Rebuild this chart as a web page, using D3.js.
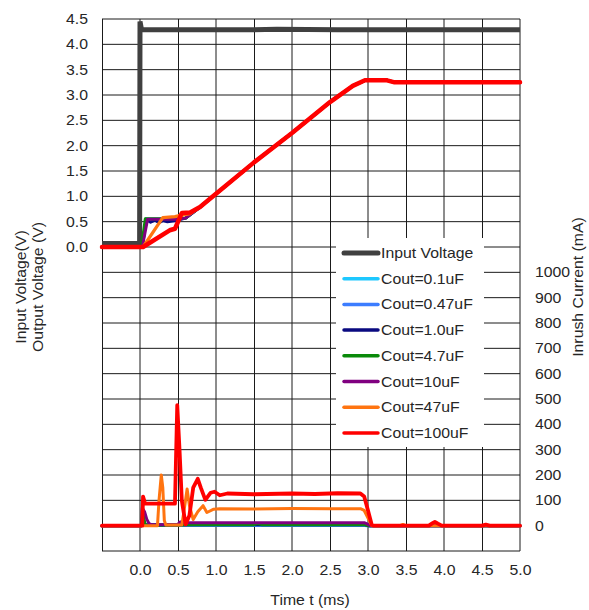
<!DOCTYPE html>
<html>
<head>
<meta charset="utf-8">
<script src="https://cdn.jsdelivr.net/npm/d3@7"></script>
<style>
  html, body { margin: 0; padding: 0; background: #fff; }
  svg { display: block; font-family: "Liberation Sans", Arial, sans-serif; }
</style>
</head>
<body>
<svg id="chart" width="589" height="610"></svg>
<script>
// ---------------- DATA ----------------
const xTicks = [0, 0.5, 1, 1.5, 2, 2.5, 3, 3.5, 4, 4.5, 5];
const yLeftTicks = [0, 0.5, 1, 1.5, 2, 2.5, 3, 3.5, 4, 4.5];
const yRightTicks = [0, 100, 200, 300, 400, 500, 600, 700, 800, 900, 1000];

const seriesNames = ["Input Voltage", "Cout=0.1uF", "Cout=0.47uF", "Cout=1.0uF",
                     "Cout=4.7uF", "Cout=10uF", "Cout=47uF", "Cout=100uF"];
const seriesColors = ["#404040", "#1ec8ff", "#3c7dff", "#0a0a80",
                      "#0a8a0a", "#800080", "#ff7410", "#ff0000"];

// Input voltage (V)
const inputT = [-0.5, -0.005, 0.0, 0.02, 1.5, 1.8, 2.6, 3.0, 5.0];
const inputV = [0.07, 0.07, 4.45, 4.29, 4.29, 4.3, 4.29, 4.29, 4.29];

// Common soft-start ramp of the output voltage (V)
const rampT = [0.79, 1.0, 1.5, 2.0, 2.5, 2.8, 2.96, 3.25, 3.35, 5.0];
const rampV = [0.79, 1.05, 1.67, 2.25, 2.86, 3.18, 3.29, 3.29, 3.25, 3.25];

// Output voltage start segments (V) before joining the ramp
const vout01T = [-0.5, 0.03, 0.08, 0.5, 0.6];
const vout01V = [0, 0, 0.55, 0.55, 0.57];
const vout047T = [-0.5, 0.03, 0.08, 0.5, 0.6];
const vout047V = [0, 0, 0.55, 0.55, 0.57];
const vout1T = [-0.5, 0.03, 0.08, 0.14, 0.2, 0.25, 0.3, 0.36, 0.5, 0.6];
const vout1V = [0, 0, 0.55, 0.49, 0.53, 0.48, 0.52, 0.5, 0.53, 0.57];
const vout47T = [-0.5, 0.02, 0.07, 0.5, 0.6];
const vout47V = [0, 0, 0.56, 0.56, 0.57];
const vout10T = [-0.5, 0.03, 0.1, 0.5, 0.6];
const vout10V = [0, 0, 0.55, 0.55, 0.57];
const vout47uT = [-0.5, 0.04, 0.30, 0.46, 0.55, 0.66];
const vout47uV = [0, 0, 0.58, 0.6, 0.63, 0.66];
const vout100T = [-0.5, 0.04, 0.39, 0.46, 0.55, 0.66];
const vout100V = [0, 0, 0.33, 0.36, 0.67, 0.68];

// Inrush current (mA)
const iin01T = [-0.5, 0.02, 0.03, 0.06, 2.95, 3.0, 5.0];
const iin01V = [0, 0, 15, 1, 1, 0, 0];
const iin047T = [-0.5, 0.02, 0.03, 0.06, 2.95, 3.0, 5.0];
const iin047V = [0, 0, 20, 2, 2, 0, 0];
const iin1T = [-0.5, 0.02, 0.03, 0.06, 2.95, 3.0, 5.0];
const iin1V = [0, 0, 30, 4, 4, 0, 0];
const iin47T = [-0.5, 0.02, 0.03, 0.05, 0.07, 0.5, 0.6, 1.5, 1.55, 1.6, 2.95, 3.0, 5.0];
const iin47V = [0, 0, 60, 30, 2, 2, 4, 4, 8, 4, 4, 0, 0];
const iin10T = [-0.5, 0.02, 0.03, 0.06, 0.09, 0.12, 0.15, 0.5, 0.52, 0.55, 0.6, 2.95, 3.0, 3.03, 5.0];
const iin10V = [0, 0, 70, 55, 25, 8, 4, 4, 14, 16, 12, 12, 5, 0, 0];
const iin47uT = [-0.5, 0.23, 0.25, 0.28, 0.30, 0.32, 0.34, 0.55, 0.58, 0.62, 0.65, 0.70, 0.76, 0.83, 0.88,
                 0.97, 1.05, 1.5, 2.0, 2.5, 2.9, 2.95, 3.0, 3.05, 3.42, 3.46, 3.5, 5.0];
const iin47uV = [0, 0, 100, 200, 150, 20, 3, 3, 60, 145, 80, 24, 55, 79, 52,
                 65, 67, 66, 68, 67, 67, 60, 30, 0, 0, 5, 0, 0];
const iin100T = [-0.5, 0.03, 0.04, 0.06, 0.07, 0.46, 0.49, 0.52, 0.55, 0.6, 0.65, 0.7, 0.76, 0.8, 0.86,
                 0.93, 0.98, 1.05, 1.15, 1.5, 2.0, 2.3, 2.6, 2.9, 2.95, 3.0, 3.05, 3.07,
                 3.8, 3.85, 3.88, 3.92, 3.97, 4.5, 4.55, 4.6, 5.0];
const iin100V = [0, 0, 115, 95, 87, 87, 476, 300, 100, 5, 40, 150, 185, 150, 102,
                 130, 134, 120, 127, 124, 127, 125, 128, 127, 115, 60, 3, 0,
                 0, 10, 15, 8, 0, 0, 4, 0, 0];

// ---------------- LAYOUT ----------------
const L = 102, R = 520, T = 19, B = 551;
const SX = 1.13; // horizontal stretch of the original font

const x = d3.scaleLinear().domain([-0.5, 5.0]).range([L, R]);
const yL = d3.scaleLinear().domain([-6, 4.5]).range([B, T]);
const yR = d3.scaleLinear().domain([-100, 2000]).range([B, T]);

const svg = d3.select("#chart");
const textColor = "#262626";

// grid
const xGrid = d3.range(-0.5, 5.001, 0.5);
const yGrid = d3.range(-6, 4.501, 0.5);
const isWhole = d => Math.abs(d - Math.round(d)) < 0.01;
const grid = svg.append("g");
grid.selectAll("line.v").data(xGrid).enter().append("line")
  .attr("x1", d => isWhole(d) ? x(d) : x(d) + 0.5)
  .attr("x2", d => isWhole(d) ? x(d) : x(d) + 0.5)
  .attr("y1", T).attr("y2", B)
  .attr("stroke", "#1a1a1a").attr("stroke-width", 1);
grid.selectAll("line.h").data(yGrid).enter().append("line")
  .attr("x1", L).attr("x2", R)
  .attr("y1", d => yL(d)).attr("y2", d => yL(d))
  .attr("stroke", "#1a1a1a").attr("stroke-width", 1);

// legend background (hides grid)
const legX = 336, legY = 238, legW = 148, legH = 209;
svg.append("rect").attr("x", legX).attr("y", legY).attr("width", legW).attr("height", legH)
  .attr("fill", "#fff");

// axes
function stretchText(sel, xPos) {
  sel.selectAll("text")
    .attr("x", xPos / SX)
    .attr("transform", `scale(${SX},1)`)
    .attr("fill", textColor)
    .style("font-size", "14px")
    .style("font-family", '"Liberation Sans", Arial, sans-serif');
}
const axL = svg.append("g").attr("transform", `translate(${L},0)`)
  .call(d3.axisLeft(yL).tickValues(yLeftTicks).tickFormat(d3.format(".1f")).tickSize(0));
axL.select(".domain").remove();
stretchText(axL, -14);

const axR = svg.append("g").attr("transform", `translate(${R},0)`)
  .call(d3.axisRight(yR).tickValues(yRightTicks).tickFormat(d3.format("d")).tickSize(0));
axR.select(".domain").remove();
stretchText(axR, 15);

const axB = svg.append("g").attr("transform", `translate(0,${B})`)
  .call(d3.axisBottom(x).tickValues(xTicks).tickFormat(d3.format(".1f")).tickSize(0));
axB.select(".domain").remove();
axB.selectAll("text").attr("y", 14);
stretchText(axB, 0);

// axis titles
function title(txt, tx, ty, rot) {
  svg.append("text")
    .attr("transform", `translate(${tx},${ty})` + (rot ? " rotate(-90)" : "") + ` scale(${SX},1)`)
    .attr("text-anchor", "middle")
    .attr("fill", textColor)
    .style("font-size", "14px")
    .text(txt);
}
title("Input Voltage(V)", 26, 287, true);
title("Output Voltage (V)", 43, 287, true);
title("Inrush Current (mA)", 583, 287, true);
title("Time  t (ms)", 310, 605, false);

// lines
const lineL = d3.line().x(d => x(d[0])).y(d => yL(d[1]));
const lineR = d3.line().x(d => x(d[0])).y(d => yR(d[1]));
const zip = (a, b) => a.map((t, i) => [t, b[i]]);
const withRamp = (t, v) => zip(t.concat(rampT), v.concat(rampV));

const plot = svg.append("g").attr("fill", "none")
  .attr("stroke-linejoin", "round").attr("stroke-linecap", "round");

// input voltage
plot.append("path").attr("d", lineL(zip(inputT, inputV)))
  .attr("stroke", seriesColors[0]).attr("stroke-width", 5).attr("stroke-linecap", "butt").attr("stroke-linejoin", "miter");

const voutSeries = [
  [vout01T, vout01V], [vout047T, vout047V], [vout1T, vout1V], [vout47T, vout47V],
  [vout10T, vout10V], [vout47uT, vout47uV], [vout100T, vout100V]
];
const iinSeries = [
  [iin01T, iin01V], [iin047T, iin047V], [iin1T, iin1V], [iin47T, iin47V],
  [iin10T, iin10V], [iin47uT, iin47uV], [iin100T, iin100V]
];
const widths = [3, 3, 3, 3, 3, 3.2, 4.5];

voutSeries.forEach((s, i) => {
  plot.append("path").attr("d", lineL(withRamp(s[0], s[1])))
    .attr("stroke", seriesColors[i + 1]).attr("stroke-width", widths[i]);
});
iinSeries.forEach((s, i) => {
  plot.append("path").attr("d", lineR(zip(s[0], s[1])))
    .attr("stroke", seriesColors[i + 1]).attr("stroke-width", i === 6 ? 3.8 : 3);
});

// legend
const leg = svg.append("g");
seriesNames.forEach((name, i) => {
  const cy = 253 + i * 25.7;
  leg.append("line").attr("x1", 344).attr("x2", 378).attr("y1", cy).attr("y2", cy)
    .attr("stroke", seriesColors[i]).attr("stroke-width", i === 0 ? 5 : 3.5)
    .attr("stroke-linecap", "round");
  leg.append("text")
    .attr("transform", `translate(381,${cy + 5}) scale(${SX},1)`)
    .attr("fill", textColor).style("font-size", "14px")
    .text(name);
});
</script>
</body>
</html>
